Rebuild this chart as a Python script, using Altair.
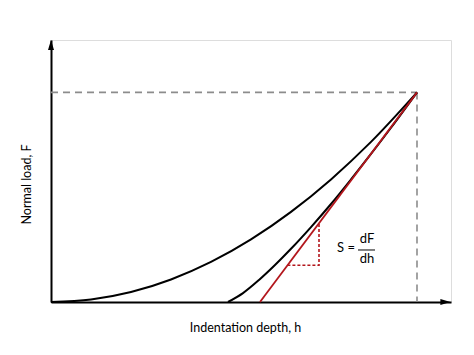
import altair as alt
import pandas as pd

# Loading curve (h, F)
load_h = [0, 10, 20, 30, 40, 50, 60, 70, 80, 91.5]
load_F = [0, 0.95, 3.8, 8.6, 15.3, 23.9, 34.4, 46.8, 61.1, 80]
# Unloading curve
unl_h = [44.25, 48, 52, 56, 60, 65, 70, 75, 80, 85, 91.5]
unl_F = [0, 3.4, 8.4, 14.1, 20.3, 28.6, 37.4, 46.8, 56.5, 66.5, 80]
# Tangent (stiffness) line
tan_h = [52.25, 91.5]
tan_F = [0, 80]
# Slope triangle
tri_h = [59.1, 67, 67]
tri_F = [14, 14, 30.1]
# Max load / max depth guides
hmax = 91.5
Fmax = 80

load = pd.DataFrame({"h": load_h, "F": load_F})
unl = pd.DataFrame({"h": unl_h, "F": unl_F})
tan = pd.DataFrame({"h": tan_h, "F": tan_F})
tri = pd.DataFrame({"h": tri_h, "F": tri_F, "o": [0, 1, 2]})
guides = pd.DataFrame({
    "h": [0, hmax, hmax, hmax],
    "F": [Fmax, Fmax, Fmax, 0],
    "g": ["a", "a", "b", "b"],
})

xs = alt.Scale(domain=[0, 100], nice=False, zero=False)
ys = alt.Scale(domain=[0, 100], nice=False, zero=False)
X = lambda: alt.X("h:Q", scale=xs, axis=alt.Axis(title="Indentation depth, h", labels=False, ticks=False, grid=False, domainColor="black", domainWidth=2, titlePadding=19, titleX=194, titleFontSize=12.5, titleFont="Lato", titleFontWeight="normal", titleColor="black"))
Y = lambda: alt.Y("F:Q", scale=ys, axis=alt.Axis(title="Normal load, F", labels=False, ticks=False, grid=False, domainColor="black", domainWidth=2, titlePadding=18, titleY=144, titleFontSize=12.5, titleFont="Lato", titleFontWeight="normal", titleColor="black"))

guide_layer = alt.Chart(guides).mark_line(color="#8c8c8c", strokeWidth=1.6, strokeDash=[7, 5]).encode(
    x=X(), y=Y(), detail="g:N")
load_layer = alt.Chart(load).mark_line(color="black", strokeWidth=2, interpolate="monotone").encode(x=X(), y=Y())
unl_layer = alt.Chart(unl).mark_line(color="black", strokeWidth=2, interpolate="monotone").encode(x=X(), y=Y())
tan_layer = alt.Chart(tan).mark_line(color="#b3161c", strokeWidth=1.8).encode(x=X(), y=Y())
tri_layer = alt.Chart(tri).mark_line(color="#b3161c", strokeWidth=1.6, strokeDash=[3, 2]).encode(
    x=X(), y=Y(), order="o:O")

arrows = pd.DataFrame({"h": [0, 98.6], "F": [98.1, 0], "s": ["up", "right"]})
up = alt.Chart(arrows[arrows.s == "up"]).mark_point(shape="M0,-1L0.6,1L-0.6,1Z", filled=True, color="black", opacity=1, size=100).encode(x=X(), y=Y())
right = alt.Chart(arrows[arrows.s == "right"]).mark_point(shape="M1,0L-1,-0.6L-1,0.6Z", filled=True, color="black", opacity=1, size=100).encode(x=X(), y=Y())

labels = pd.DataFrame({"h": [73.75, 79, 79], "F": [20.6, 23.9, 16.4], "t": ["S =", "dF", "dh"]})
text_layer = alt.Chart(labels).mark_text(font="Lato", fontSize=13, color="black").encode(
    x=X(), y=Y(), text="t:N")
bar = pd.DataFrame({"h": [76.75], "h2": [81], "F": [19.85]})
bar_layer = alt.Chart(bar).mark_rule(color="black", strokeWidth=1).encode(x=X(), x2="h2:Q", y=Y())

chart = alt.layer(guide_layer, load_layer, unl_layer, tan_layer, tri_layer, up, right, text_layer, bar_layer).properties(
    width=400, height=262,
    autosize=alt.AutoSizeParams(type="none"),
    padding={"left": 51, "top": 40, "right": 23, "bottom": 53},
).configure_view(stroke=None).configure(background="white")

chart.save("out.html", embed_options={"renderer": "svg", "actions": False})
